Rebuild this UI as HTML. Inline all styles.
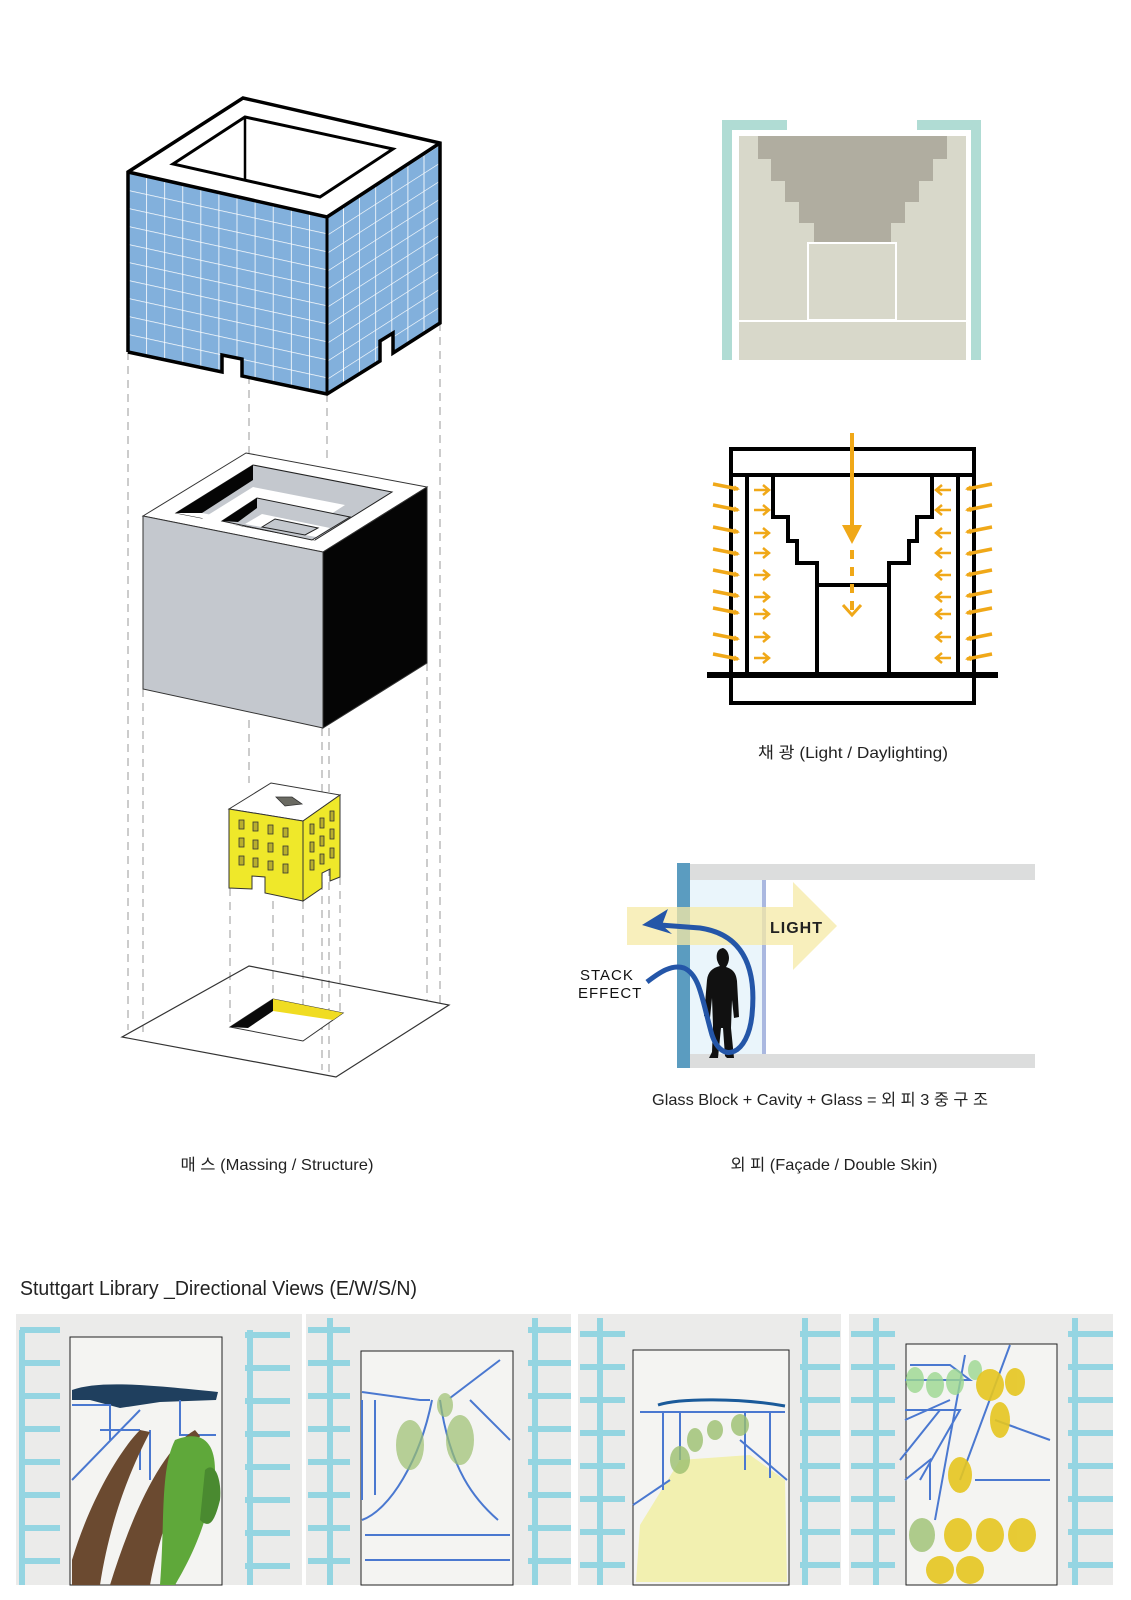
<!DOCTYPE html>
<html><head><meta charset="utf-8"><style>
html,body{margin:0;padding:0;background:#fff;}
svg{display:block;}
text{font-family:"Liberation Sans","Noto Sans CJK KR",sans-serif;}
</style></head><body>
<svg width="1131" height="1600" viewBox="0 0 1131 1600" xmlns="http://www.w3.org/2000/svg">
<defs>
<pattern id="gf" patternUnits="userSpaceOnUse" width="18.1" height="18" patternTransform="matrix(1,0.218,0,1,128,172)">
<rect width="18.1" height="18" fill="#82b0dc"/>
<path d="M0 0H18.1M0 0V18" stroke="#fff" stroke-width="1.6"/>
</pattern>
<pattern id="gr" patternUnits="userSpaceOnUse" width="16.1" height="18" patternTransform="matrix(1,-0.64,0,1,327,217)">
<rect width="16.1" height="18" fill="#82b0dc"/>
<path d="M0 0H16.1M0 0V18" stroke="#fff" stroke-width="1.6"/>
</pattern>
<marker id="oa" markerWidth="6" markerHeight="6" refX="4" refY="3" orient="auto" markerUnits="userSpaceOnUse"><path d="M0 0L6 3L0 6z" fill="#f0a818"/></marker>
</defs>

<g stroke="#aaa" stroke-width="1.2" stroke-dasharray="8 6" fill="none">
<path d="M128 352V1030M143 689V1032M249 376V455M249 720V783M230 888V1027M273 901V999M303 901V1041M327 394V460M329 560V1072M322 728V1070M340 877V1013M427 663V1000M440 323V1005"/>
</g>

<polygon points="128,172 243,98 440,143 327,217" fill="#fff"/>
<polygon points="128,172 327,217 327,394 242,376 242,359 222,355 222,372 128,352" fill="url(#gf)"/>
<polygon points="327,217 440,143 440,323 393,353 393,333 380,341 380,361 327,394" fill="url(#gr)"/>
<polygon points="173,164 245,117 393,149 320,197" fill="#fff" stroke="#000" stroke-width="3"/>
<line x1="245" y1="117" x2="245" y2="180" stroke="#000" stroke-width="2.5"/>
<polyline points="128,352 128,172 243,98 440,143 440,323 393,353 393,333 380,341 380,361 327,394 242,376 242,359 222,355 222,372 128,352" fill="none" stroke="#000" stroke-width="3.5"/>
<polyline points="128,172 327,217 440,143" fill="none" stroke="#000" stroke-width="3.5"/>
<line x1="327" y1="217" x2="327" y2="394" stroke="#000" stroke-width="3"/>

<polygon points="143,516 246,453 427,487 323,552" fill="#fff" stroke="#333" stroke-width="1"/>
<polygon points="143,516 323,552 323,728 143,689" fill="#c4c8ce" stroke="#333" stroke-width="1"/>
<polygon points="323,552 427,487 427,663 323,728" fill="#050505" stroke="#333" stroke-width="1"/>
<polygon points="176,513 253,465 392,492 315,540" fill="#c4c8ce" stroke="#222" stroke-width="1"/>
<polygon points="176,513 253,465 253,480 202,513" fill="#050505"/>
<polygon points="202,513 315,536 315,540 176,513" fill="#fff"/>
<polygon points="200,520 253,487 345,505 300,534" fill="#fff"/>
<polygon points="222,521 257,498 350,517 312,540" fill="#c4c8ce" stroke="#222" stroke-width="1"/>
<polygon points="222,521 257,498 257,508 238,522" fill="#050505"/>
<polygon points="245,524 262,514 330,528 316,537" fill="#fff"/>
<polygon points="262,527 275,519 318,528 305,535" fill="#c4c8ce" stroke="#222" stroke-width="1"/>

<polygon points="229,809 271,783 340,795 303,821" fill="#fff" stroke="#333" stroke-width="1"/>
<polygon points="276,797 292,797 302,804 285,806" fill="#6a6a62" stroke="#333" stroke-width="0.8"/>
<polygon points="229,809 303,821 303,901 265,893 265,877 252,876 252,889 229,888" fill="#efe82a" stroke="#333" stroke-width="1"/>
<polygon points="303,821 340,795 340,877 330,881 330,869 322,873 322,888 303,901" fill="#efe82a" stroke="#333" stroke-width="1"/>
<g fill="#b8ae2e" stroke="#333" stroke-width="0.8">
<rect x="239" y="820" width="5" height="9"/><rect x="253" y="822" width="5" height="9"/><rect x="268" y="825" width="5" height="9"/><rect x="283" y="828" width="5" height="9"/>
<rect x="239" y="838" width="5" height="9"/><rect x="253" y="840" width="5" height="9"/><rect x="268" y="843" width="5" height="9"/><rect x="283" y="846" width="5" height="9"/>
<rect x="239" y="856" width="5" height="9"/><rect x="253" y="858" width="5" height="9"/><rect x="268" y="861" width="5" height="9"/><rect x="283" y="864" width="5" height="9"/>
<rect x="310" y="824" width="4" height="10"/><rect x="320" y="818" width="4" height="10"/><rect x="330" y="811" width="4" height="10"/>
<rect x="310" y="842" width="4" height="10"/><rect x="320" y="836" width="4" height="10"/><rect x="330" y="829" width="4" height="10"/>
<rect x="310" y="860" width="4" height="10"/><rect x="320" y="854" width="4" height="10"/><rect x="330" y="848" width="4" height="10"/>
</g>

<polygon points="122,1037 249,966 449,1005 336,1077" fill="none" stroke="#333" stroke-width="1.2"/>
<polygon points="230,1027 273,999 343,1013 303,1041" fill="#fff" stroke="#333" stroke-width="1"/>
<polygon points="230,1027 273,999 273,1011 248,1028" fill="#0a0a0a"/>
<polygon points="273,999 343,1013 333,1020 273,1011" fill="#f0dc22"/>

<rect x="739" y="136" width="227" height="224" fill="#d8d8ca"/>
<polygon points="758,136 947,136 947,159 933,159 933,181 919,181 919,202 905,202 905,223 891,223 891,243 814,243 814,223 799,223 799,202 785,202 785,181 771,181 771,159 758,159" fill="#b0ada0"/>
<rect x="808" y="243" width="88" height="77" fill="#d8d8ca" stroke="#fff" stroke-width="2"/>
<line x1="739" y1="321" x2="966" y2="321" stroke="#fff" stroke-width="2"/>
<path d="M727 360V125H787M976 360V125H917" fill="none" stroke="#b0dcd4" stroke-width="10"/>

<g stroke="#000" fill="none">
<rect x="731" y="449" width="243" height="26" stroke-width="4"/>
<rect x="731" y="675" width="243" height="28" stroke-width="4"/>
<line x1="707" y1="675" x2="998" y2="675" stroke-width="6"/>
<path d="M731 475V675M974 475V675M747 475V675M958 475V675" stroke-width="4"/>
<polyline points="773,475 773,517 788,517 788,541 797,541 797,563 817,563 817,675" stroke-width="4"/>
<polyline points="932,475 932,517 917,517 917,541 909,541 909,563 889,563 889,675" stroke-width="4"/>
<line x1="817" y1="585" x2="889" y2="585" stroke-width="4"/>
</g>
<line x1="852" y1="433" x2="852" y2="527" stroke="#f0a818" stroke-width="4"/>
<polygon points="842,525 862,525 852,544" fill="#f0a818"/>
<line x1="852" y1="550" x2="852" y2="612" stroke="#f0a818" stroke-width="4" stroke-dasharray="9 8"/>
<polyline points="843,605 852,615 861,605" fill="none" stroke="#f0a818" stroke-width="3"/>
<g stroke="#f0a818" stroke-width="3.5" marker-end="url(#oa)">
<line x1="713" y1="484" x2="738" y2="489"/><line x1="713" y1="505" x2="738" y2="510"/><line x1="713" y1="527" x2="738" y2="532"/><line x1="713" y1="549" x2="738" y2="554"/><line x1="713" y1="570" x2="738" y2="575"/><line x1="713" y1="591" x2="738" y2="596"/><line x1="713" y1="608" x2="738" y2="613"/><line x1="713" y1="634" x2="738" y2="639"/><line x1="713" y1="654" x2="738" y2="659"/>
<line x1="992" y1="484" x2="967" y2="489"/><line x1="992" y1="505" x2="967" y2="510"/><line x1="992" y1="527" x2="967" y2="532"/><line x1="992" y1="549" x2="967" y2="554"/><line x1="992" y1="570" x2="967" y2="575"/><line x1="992" y1="591" x2="967" y2="596"/><line x1="992" y1="608" x2="967" y2="613"/><line x1="992" y1="634" x2="967" y2="639"/><line x1="992" y1="654" x2="967" y2="659"/>
</g>
<g stroke="#f0a818" stroke-width="2.5" fill="none">
<path d="M754 490H769M763 485L769 490L763 495M754 510H769M763 505L769 510L763 515M754 533H769M763 528L769 533L763 538M754 553H769M763 548L769 553L763 558M754 575H769M763 570L769 575L763 580M754 597H769M763 592L769 597L763 602M754 614H769M763 609L769 614L763 619M754 637H769M763 632L769 637L763 642M754 658H769M763 653L769 658L763 663"/>
<path d="M951 490H936M942 485L936 490L942 495M951 510H936M942 505L936 510L942 515M951 533H936M942 528L936 533L942 538M951 553H936M942 548L936 553L942 558M951 575H936M942 570L936 575L942 580M951 597H936M942 592L936 597L942 602M951 614H936M942 609L936 614L942 619M951 637H936M942 632L936 637L942 642M951 658H936M942 653L936 658L942 663"/>
</g>
<text x="853" y="758" font-size="16" text-anchor="middle" fill="#222" textLength="190" lengthAdjust="spacingAndGlyphs">채 광 (Light / Daylighting)</text>

<rect x="690" y="864" width="345" height="16" fill="#dcdddd"/>
<rect x="690" y="1054" width="345" height="14" fill="#dcdddd"/>
<rect x="690" y="880" width="73" height="174" fill="#eaf5fb"/>
<rect x="762" y="880" width="4" height="174" fill="#aab8e0"/>
<rect x="677" y="863" width="13" height="205" fill="#5b9cc0"/>
<g opacity="0.75">
<rect x="627" y="907" width="166" height="38" fill="#f6eaa6"/>
<polygon points="793,882 837,926 793,970" fill="#f6eaa6"/>
</g>
<text x="770" y="933" font-size="16" font-weight="bold" fill="#222" letter-spacing="1">LIGHT</text>
<path d="M724 948c-7 0-8 7-7 12c1 3 2 5 3 6c-8 2-12 6-13 14l-3 36l6 2l2-20l1 28l-1 26l-3 6h9l3-30l2 0l2 28l2 2h7l-3-30l1-28l2 18l5-1l-2-36c-1-9-5-12-11-14c2-3 3-6 3-9c0-5-3-10-7-10z" fill="#111"/>
<path d="M647 982C660 972 672 964 684 968C700 975 702 1000 712 1035C722 1065 748 1055 752 1015C756 975 748 935 700 928L660 925" fill="none" stroke="#2456a8" stroke-width="5"/>
<polygon points="642,925 668,909 662,925 672,934" fill="#2456a8"/>
<text x="580" y="980" font-size="15" fill="#111" letter-spacing="1">STACK</text>
<text x="578" y="998" font-size="15" fill="#111" letter-spacing="1">EFFECT</text>
<text x="820" y="1105" font-size="16" text-anchor="middle" fill="#222" textLength="336" lengthAdjust="spacingAndGlyphs">Glass Block + Cavity + Glass =  외 피 3 중  구 조</text>
<text x="834" y="1170" font-size="16" text-anchor="middle" fill="#222" textLength="207" lengthAdjust="spacingAndGlyphs">외  피 (Façade / Double Skin)</text>
<text x="277" y="1170" font-size="16" text-anchor="middle" fill="#222" textLength="193" lengthAdjust="spacingAndGlyphs">매  스 (Massing / Structure)</text>

<text x="20" y="1295" font-size="20" fill="#222" textLength="397" lengthAdjust="spacingAndGlyphs">Stuttgart Library _Directional Views (E/W/S/N)</text>

<rect x="16" y="1314" width="286" height="271" fill="#ebebea"/>
<rect x="70" y="1337" width="152" height="248" fill="#f4f4f2" stroke="#222" stroke-width="1"/>
<rect x="306" y="1314" width="265" height="271" fill="#ebebea"/>
<rect x="361" y="1351" width="152" height="234" fill="#f4f4f2" stroke="#222" stroke-width="1"/>
<rect x="578" y="1314" width="263" height="271" fill="#ebebea"/>
<rect x="633" y="1350" width="156" height="235" fill="#f4f4f2" stroke="#222" stroke-width="1"/>
<rect x="849" y="1314" width="264" height="271" fill="#ebebea"/>
<rect x="906" y="1344" width="151" height="241" fill="#f4f4f2" stroke="#222" stroke-width="1"/>
<g stroke="#7fd0e0" stroke-width="6" opacity="0.8" fill="none">
<path d="M20 1330H60M20 1363H60M20 1396H60M20 1429H60M20 1462H60M20 1495H60M20 1528H60M20 1561H60M22 1330V1585"/>
<path d="M245 1335H290M245 1368H290M245 1401H290M245 1434H290M245 1467H290M245 1500H290M245 1533H290M245 1566H290M250 1330V1585"/>
<path d="M308 1330H350M308 1363H350M308 1396H350M308 1429H350M308 1462H350M308 1495H350M308 1528H350M308 1561H350M330 1318V1585"/>
<path d="M528 1330H571M528 1363H571M528 1396H571M528 1429H571M528 1462H571M528 1495H571M528 1528H571M528 1561H571M535 1318V1585"/>
<path d="M580 1334H625M580 1367H625M580 1400H625M580 1433H625M580 1466H625M580 1499H625M580 1532H625M580 1565H625M600 1318V1585"/>
<path d="M800 1334H840M800 1367H840M800 1400H840M800 1433H840M800 1466H840M800 1499H840M800 1532H840M800 1565H840M805 1318V1585"/>
<path d="M851 1334H895M851 1367H895M851 1400H895M851 1433H895M851 1466H895M851 1499H895M851 1532H895M851 1565H895M876 1318V1585"/>
<path d="M1068 1334H1113M1068 1367H1113M1068 1400H1113M1068 1433H1113M1068 1466H1113M1068 1499H1113M1068 1532H1113M1068 1565H1113M1075 1318V1585"/>
</g>
<path d="M72 1390C100 1380 150 1385 218 1392L216 1400L160 1402L120 1408L90 1400L72 1400z" fill="#1f3f5e"/>
<g stroke="#4a78d0" stroke-width="2" fill="none">
<path d="M72 1405H110L110 1440M180 1400V1435H216M72 1480L140 1410M100 1430H140M140 1430V1470M150 1430V1480"/>
</g>
<path d="M72 1560C90 1500 120 1450 140 1430L150 1432C130 1470 110 1520 100 1585H72z" fill="#6b4a30"/>
<path d="M110 1585C130 1520 160 1450 195 1430L200 1436C180 1480 160 1530 150 1585z" fill="#6b4a30"/>
<path d="M175 1440C200 1430 215 1440 215 1470C210 1520 190 1560 175 1585H160C165 1520 160 1470 175 1440z" fill="#5fa83a"/>
<path d="M205 1470C215 1460 222 1480 220 1500C215 1520 210 1530 200 1520z" fill="#4a8a30"/>
<g stroke="#4a78d0" stroke-width="2" fill="none">
<path d="M362 1392L420 1400L430 1400M362 1500V1400M375 1400V1495M362 1520C390 1510 420 1460 432 1400M440 1400C450 1470 475 1500 498 1520M450 1398L500 1360M470 1400L510 1440M365 1535H510M365 1560H510"/>
</g>
<g fill="#9cc070" opacity="0.7">
<ellipse cx="410" cy="1445" rx="14" ry="25"/><ellipse cx="460" cy="1440" rx="14" ry="25"/><ellipse cx="445" cy="1405" rx="8" ry="12"/>
</g>
<polygon points="640,1525 680,1460 750,1455 785,1480 787,1582 636,1582" fill="#f2f0b0"/>
<g stroke="#4a78d0" stroke-width="2" fill="none">
<path d="M640,1412H785M663,1412V1490M680,1412V1460M745,1412V1470M770,1412V1478M633,1505L670,1480M740,1440L787,1480"/>
</g>
<path d="M658 1405C680 1398 740 1398 785 1406" stroke="#1a5a9a" stroke-width="3" fill="none"/>
<g fill="#9cc070" opacity="0.8"><ellipse cx="680" cy="1460" rx="10" ry="14"/><ellipse cx="695" cy="1440" rx="8" ry="12"/><ellipse cx="715" cy="1430" rx="8" ry="10"/><ellipse cx="740" cy="1425" rx="9" ry="11"/></g>
<g stroke="#4a78d0" stroke-width="2" fill="none">
<path d="M910 1365H950L970 1380H905M905 1410H955M905 1420L950 1400M900 1460L940 1410H960L920 1480M905 1480L930 1460V1500M965 1355L935 1520M1010 1345L960 1480M995 1420L1050 1440M975 1480H1050"/>
</g>
<g fill="#9cd890" opacity="0.8"><ellipse cx="915" cy="1380" rx="9" ry="13"/><ellipse cx="935" cy="1385" rx="9" ry="13"/><ellipse cx="955" cy="1382" rx="9" ry="13"/><ellipse cx="975" cy="1370" rx="7" ry="10"/></g>
<g fill="#e6c620" opacity="0.9">
<ellipse cx="990" cy="1385" rx="14" ry="16"/><ellipse cx="1015" cy="1382" rx="10" ry="14"/><ellipse cx="1000" cy="1420" rx="10" ry="18"/><ellipse cx="960" cy="1475" rx="12" ry="18"/>
<ellipse cx="958" cy="1535" rx="14" ry="17"/><ellipse cx="990" cy="1535" rx="14" ry="17"/><ellipse cx="1022" cy="1535" rx="14" ry="17"/><ellipse cx="940" cy="1570" rx="14" ry="14"/><ellipse cx="970" cy="1570" rx="14" ry="14"/>
</g>
<ellipse cx="922" cy="1535" rx="13" ry="17" fill="#9cc070" opacity="0.8"/>
</svg>
</body></html>
